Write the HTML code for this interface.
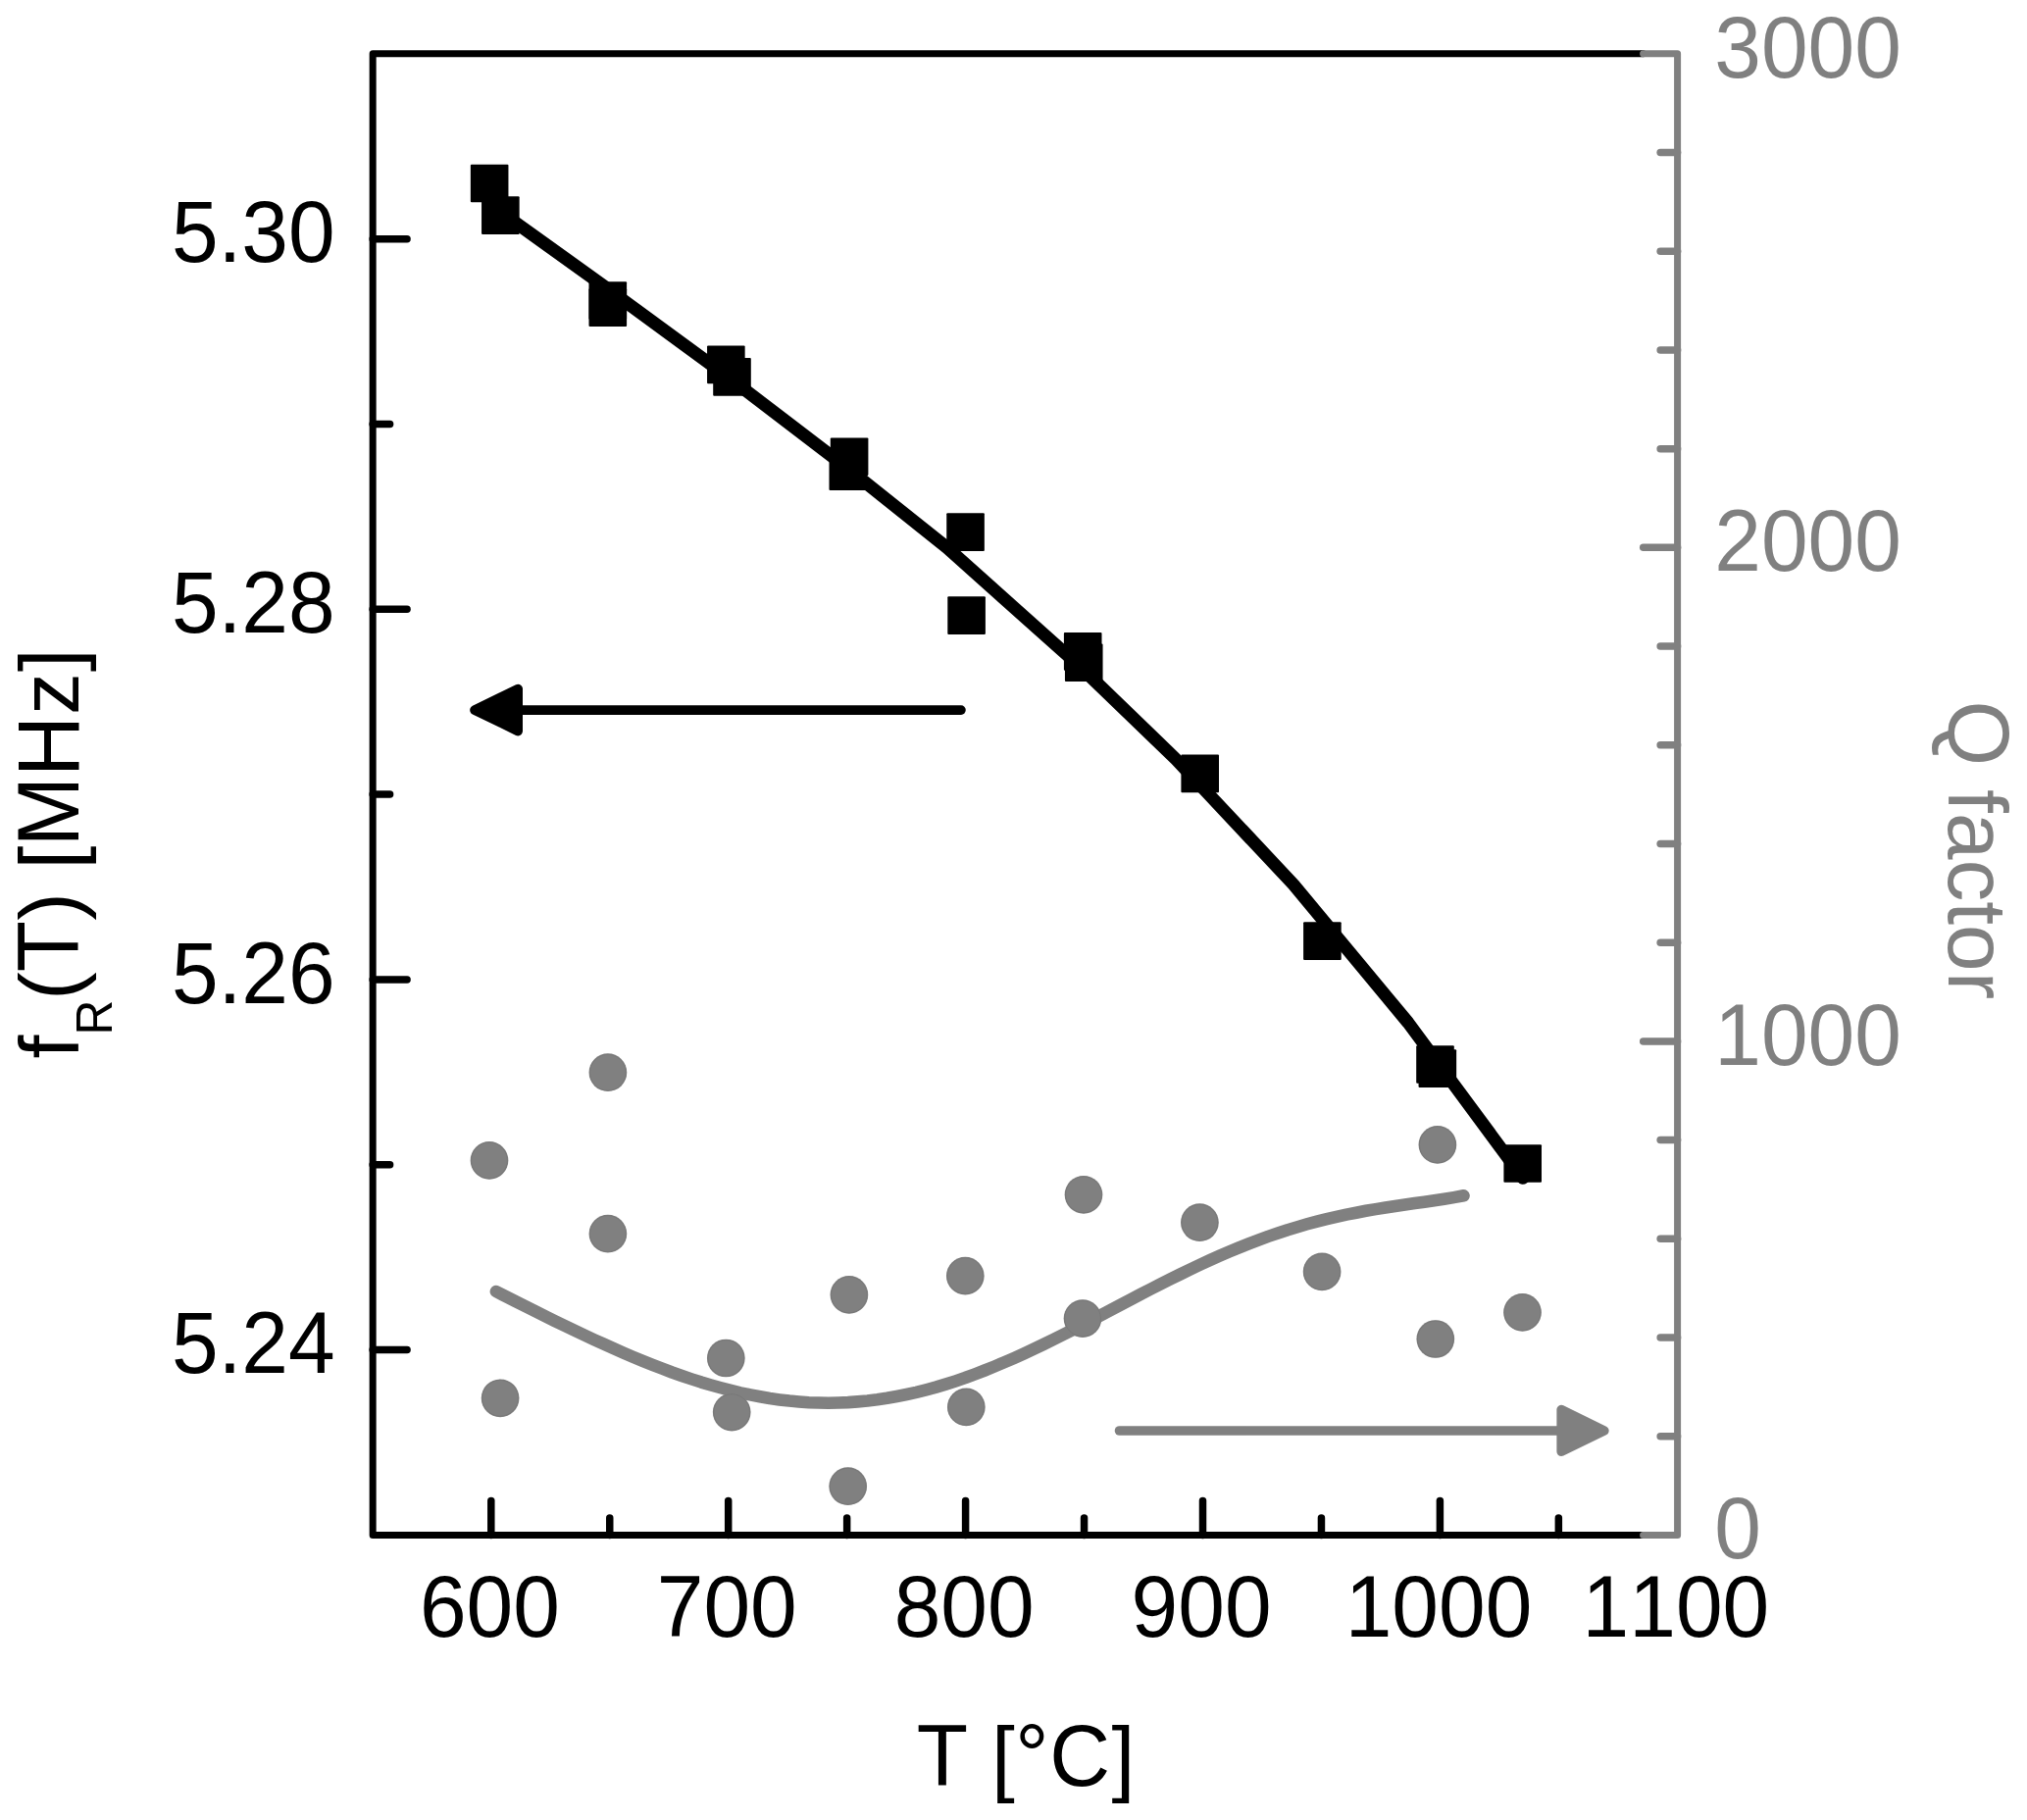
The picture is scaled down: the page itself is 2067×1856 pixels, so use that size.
<!DOCTYPE html>
<html><head><meta charset="utf-8"><title>Figure</title>
<style>html,body{margin:0;padding:0;background:#fff;overflow:hidden}svg{display:block}text{white-space:pre;font-kerning:none;font-variant-ligatures:none}</style></head>
<body>
<svg width="2067" height="1856" viewBox="0 0 2067 1856" font-family="'Liberation Sans', sans-serif">
<rect width="2067" height="1856" fill="#fff"/>
<path d="M505.9,1317.0 L515.9,1322.1 L525.8,1327.2 L535.8,1332.2 L545.8,1337.2 L555.7,1342.1 L565.7,1347.1 L575.7,1351.9 L585.6,1356.7 L595.6,1361.4 L605.6,1366.1 L615.5,1370.6 L625.5,1375.1 L635.5,1379.5 L645.4,1383.8 L655.4,1387.9 L665.4,1391.9 L675.3,1395.7 L685.3,1399.5 L695.2,1403.0 L705.2,1406.4 L715.2,1409.6 L725.1,1412.5 L735.1,1415.3 L745.1,1417.9 L755.0,1420.3 L765.0,1422.4 L775.0,1424.3 L784.9,1426.0 L794.9,1427.4 L804.9,1428.6 L814.8,1429.5 L824.8,1430.2 L834.8,1430.5 L844.7,1430.7 L854.7,1430.5 L864.7,1430.1 L874.6,1429.4 L884.6,1428.5 L894.6,1427.3 L904.5,1425.8 L914.5,1424.0 L924.5,1422.0 L934.4,1419.8 L944.4,1417.3 L954.4,1414.6 L964.3,1411.6 L974.3,1408.4 L984.3,1405.0 L994.2,1401.3 L1004.2,1397.5 L1014.1,1393.5 L1024.1,1389.3 L1034.1,1384.9 L1044.0,1380.4 L1054.0,1375.8 L1064.0,1371.0 L1073.9,1366.1 L1083.9,1361.2 L1093.9,1356.1 L1103.8,1351.0 L1113.8,1345.8 L1123.8,1340.6 L1133.7,1335.4 L1143.7,1330.1 L1153.7,1324.9 L1163.6,1319.7 L1173.6,1314.5 L1183.6,1309.4 L1193.5,1304.4 L1203.5,1299.5 L1213.5,1294.6 L1223.4,1289.9 L1233.4,1285.3 L1243.4,1280.8 L1253.3,1276.5 L1263.3,1272.4 L1273.3,1268.4 L1283.2,1264.6 L1293.2,1260.9 L1303.2,1257.5 L1313.1,1254.2 L1323.1,1251.2 L1333.0,1248.3 L1343.0,1245.6 L1353.0,1243.1 L1362.9,1240.8 L1372.9,1238.6 L1382.9,1236.7 L1392.8,1234.8 L1402.8,1233.1 L1412.8,1231.5 L1422.7,1230.0 L1432.7,1228.5 L1442.7,1227.1 L1452.6,1225.7 L1462.6,1224.3 L1472.6,1222.8 L1482.5,1221.1 L1492.5,1219.3" fill="none" stroke="#808080" stroke-width="12.6" stroke-linecap="round" stroke-linejoin="round"/>
<circle cx="619.9" cy="1093.7" r="19.35" fill="#808080"/><circle cx="619.9" cy="1093.7" r="18.4" fill="none" stroke="#747474" stroke-width="0.7"/>
<circle cx="499.0" cy="1183.4" r="19.35" fill="#808080"/><circle cx="499.0" cy="1183.4" r="18.4" fill="none" stroke="#747474" stroke-width="0.7"/>
<circle cx="619.9" cy="1258.1" r="19.35" fill="#808080"/><circle cx="619.9" cy="1258.1" r="18.4" fill="none" stroke="#747474" stroke-width="0.7"/>
<circle cx="865.9" cy="1320.4" r="19.35" fill="#808080"/><circle cx="865.9" cy="1320.4" r="18.4" fill="none" stroke="#747474" stroke-width="0.7"/>
<circle cx="740.3" cy="1385.0" r="19.35" fill="#808080"/><circle cx="740.3" cy="1385.0" r="18.4" fill="none" stroke="#747474" stroke-width="0.7"/>
<circle cx="510.1" cy="1425.8" r="19.35" fill="#808080"/><circle cx="510.1" cy="1425.8" r="18.4" fill="none" stroke="#747474" stroke-width="0.7"/>
<circle cx="746.2" cy="1440.1" r="19.35" fill="#808080"/><circle cx="746.2" cy="1440.1" r="18.4" fill="none" stroke="#747474" stroke-width="0.7"/>
<circle cx="984.3" cy="1301.1" r="19.35" fill="#808080"/><circle cx="984.3" cy="1301.1" r="18.4" fill="none" stroke="#747474" stroke-width="0.7"/>
<circle cx="985.3" cy="1434.9" r="19.35" fill="#808080"/><circle cx="985.3" cy="1434.9" r="18.4" fill="none" stroke="#747474" stroke-width="0.7"/>
<circle cx="1105" cy="1218.3" r="19.35" fill="#808080"/><circle cx="1105" cy="1218.3" r="18.4" fill="none" stroke="#747474" stroke-width="0.7"/>
<circle cx="1104" cy="1344.6" r="19.35" fill="#808080"/><circle cx="1104" cy="1344.6" r="18.4" fill="none" stroke="#747474" stroke-width="0.7"/>
<circle cx="1223.4" cy="1246.7" r="19.35" fill="#808080"/><circle cx="1223.4" cy="1246.7" r="18.4" fill="none" stroke="#747474" stroke-width="0.7"/>
<circle cx="1348.1" cy="1296.9" r="19.35" fill="#808080"/><circle cx="1348.1" cy="1296.9" r="18.4" fill="none" stroke="#747474" stroke-width="0.7"/>
<circle cx="1465.9" cy="1167.4" r="19.35" fill="#808080"/><circle cx="1465.9" cy="1167.4" r="18.4" fill="none" stroke="#747474" stroke-width="0.7"/>
<circle cx="1463.8" cy="1365.5" r="19.35" fill="#808080"/><circle cx="1463.8" cy="1365.5" r="18.4" fill="none" stroke="#747474" stroke-width="0.7"/>
<circle cx="1552.5" cy="1338.4" r="19.35" fill="#808080"/><circle cx="1552.5" cy="1338.4" r="18.4" fill="none" stroke="#747474" stroke-width="0.7"/>
<circle cx="864.7" cy="1515.7" r="19.35" fill="#808080"/><circle cx="864.7" cy="1515.7" r="18.4" fill="none" stroke="#747474" stroke-width="0.7"/>
<line x1="1141.5" y1="1459" x2="1595" y2="1459" stroke="#808080" stroke-width="9.6" stroke-linecap="round"/>
<polygon points="1635.9,1459 1592.2,1437.6 1592.2,1480.3" fill="#808080" stroke="#808080" stroke-width="9.6" stroke-linejoin="round"/>
<path d="M1675.6,54.85 H380.15 V1565.4 H1675.6" fill="none" stroke="#000" stroke-width="7.0" stroke-linejoin="round" stroke-linecap="round"/>
<line x1="380.15" y1="1376.58" x2="415.04999999999995" y2="1376.58" stroke="#000" stroke-width="7.5" stroke-linecap="round"/>
<line x1="380.15" y1="1187.76" x2="397.59999999999997" y2="1187.76" stroke="#000" stroke-width="7.5" stroke-linecap="round"/>
<line x1="380.15" y1="998.94" x2="415.04999999999995" y2="998.94" stroke="#000" stroke-width="7.5" stroke-linecap="round"/>
<line x1="380.15" y1="810.12" x2="397.59999999999997" y2="810.12" stroke="#000" stroke-width="7.5" stroke-linecap="round"/>
<line x1="380.15" y1="621.31" x2="415.04999999999995" y2="621.31" stroke="#000" stroke-width="7.5" stroke-linecap="round"/>
<line x1="380.15" y1="432.49" x2="397.59999999999997" y2="432.49" stroke="#000" stroke-width="7.5" stroke-linecap="round"/>
<line x1="380.15" y1="243.67" x2="415.04999999999995" y2="243.67" stroke="#000" stroke-width="7.5" stroke-linecap="round"/>
<line x1="500.80" y1="1565.4" x2="500.80" y2="1530.5" stroke="#000" stroke-width="7.5" stroke-linecap="round"/>
<line x1="621.75" y1="1565.4" x2="621.75" y2="1547.95" stroke="#000" stroke-width="7.5" stroke-linecap="round"/>
<line x1="742.70" y1="1565.4" x2="742.70" y2="1530.5" stroke="#000" stroke-width="7.5" stroke-linecap="round"/>
<line x1="863.65" y1="1565.4" x2="863.65" y2="1547.95" stroke="#000" stroke-width="7.5" stroke-linecap="round"/>
<line x1="984.60" y1="1565.4" x2="984.60" y2="1530.5" stroke="#000" stroke-width="7.5" stroke-linecap="round"/>
<line x1="1105.55" y1="1565.4" x2="1105.55" y2="1547.95" stroke="#000" stroke-width="7.5" stroke-linecap="round"/>
<line x1="1226.50" y1="1565.4" x2="1226.50" y2="1530.5" stroke="#000" stroke-width="7.5" stroke-linecap="round"/>
<line x1="1347.45" y1="1565.4" x2="1347.45" y2="1547.95" stroke="#000" stroke-width="7.5" stroke-linecap="round"/>
<line x1="1468.40" y1="1565.4" x2="1468.40" y2="1530.5" stroke="#000" stroke-width="7.5" stroke-linecap="round"/>
<line x1="1589.35" y1="1565.4" x2="1589.35" y2="1547.95" stroke="#000" stroke-width="7.5" stroke-linecap="round"/>
<path d="M1675.6,54.85 H1710.6 V1565.4 H1675.6" fill="none" stroke="#808080" stroke-width="7.0" stroke-linejoin="round" stroke-linecap="round"/>
<line x1="1710.6" y1="1464.70" x2="1693.1499999999999" y2="1464.70" stroke="#808080" stroke-width="7.5" stroke-linecap="round"/>
<line x1="1710.6" y1="1363.99" x2="1693.1499999999999" y2="1363.99" stroke="#808080" stroke-width="7.5" stroke-linecap="round"/>
<line x1="1710.6" y1="1263.29" x2="1693.1499999999999" y2="1263.29" stroke="#808080" stroke-width="7.5" stroke-linecap="round"/>
<line x1="1710.6" y1="1162.59" x2="1693.1499999999999" y2="1162.59" stroke="#808080" stroke-width="7.5" stroke-linecap="round"/>
<line x1="1710.6" y1="1061.88" x2="1675.6999999999998" y2="1061.88" stroke="#808080" stroke-width="7.5" stroke-linecap="round"/>
<line x1="1710.6" y1="961.18" x2="1693.1499999999999" y2="961.18" stroke="#808080" stroke-width="7.5" stroke-linecap="round"/>
<line x1="1710.6" y1="860.48" x2="1693.1499999999999" y2="860.48" stroke="#808080" stroke-width="7.5" stroke-linecap="round"/>
<line x1="1710.6" y1="759.77" x2="1693.1499999999999" y2="759.77" stroke="#808080" stroke-width="7.5" stroke-linecap="round"/>
<line x1="1710.6" y1="659.07" x2="1693.1499999999999" y2="659.07" stroke="#808080" stroke-width="7.5" stroke-linecap="round"/>
<line x1="1710.6" y1="558.37" x2="1675.6999999999998" y2="558.37" stroke="#808080" stroke-width="7.5" stroke-linecap="round"/>
<line x1="1710.6" y1="457.66" x2="1693.1499999999999" y2="457.66" stroke="#808080" stroke-width="7.5" stroke-linecap="round"/>
<line x1="1710.6" y1="356.96" x2="1693.1499999999999" y2="356.96" stroke="#808080" stroke-width="7.5" stroke-linecap="round"/>
<line x1="1710.6" y1="256.26" x2="1693.1499999999999" y2="256.26" stroke="#808080" stroke-width="7.5" stroke-linecap="round"/>
<line x1="1710.6" y1="155.55" x2="1693.1499999999999" y2="155.55" stroke="#808080" stroke-width="7.5" stroke-linecap="round"/>
<path d="M510.3,216.0 L620,294.7 L743.5,385.25 L865.4,478.4 L965.6,558.4 L1100,678.5 L1199,774.1 L1319.1,902.1 L1436,1043 L1553,1201.3" fill="none" stroke="#000" stroke-width="13" stroke-linecap="round" stroke-linejoin="round"/>
<rect x="479.85" y="167.65" width="38.6" height="38.6" rx="1" fill="#000"/>
<rect x="491.05" y="200.35" width="38.6" height="38.6" rx="1" fill="#000"/>
<rect x="600.50" y="287.20" width="38.6" height="38.6" rx="1" fill="#000"/>
<rect x="600.50" y="294.30" width="38.6" height="38.6" rx="1" fill="#000"/>
<rect x="721.05" y="352.60" width="38.6" height="38.6" rx="1" fill="#000"/>
<rect x="727.20" y="365.05" width="38.6" height="38.6" rx="1" fill="#000"/>
<rect x="846.80" y="446.50" width="38.6" height="38.6" rx="1" fill="#000"/>
<rect x="845.50" y="461.30" width="38.6" height="38.6" rx="1" fill="#000"/>
<rect x="965.25" y="523.30" width="38.6" height="38.6" rx="1" fill="#000"/>
<rect x="966.30" y="608.35" width="38.6" height="38.6" rx="1" fill="#000"/>
<rect x="1084.90" y="645.10" width="38.6" height="38.6" rx="1" fill="#000"/>
<rect x="1085.95" y="656.50" width="38.6" height="38.6" rx="1" fill="#000"/>
<rect x="1204.40" y="769.55" width="38.6" height="38.6" rx="1" fill="#000"/>
<rect x="1329.10" y="940.30" width="38.6" height="38.6" rx="1" fill="#000"/>
<rect x="1444.20" y="1066.20" width="38.6" height="38.6" rx="1" fill="#000"/>
<rect x="1446.55" y="1070.35" width="38.6" height="38.6" rx="1" fill="#000"/>
<rect x="1533.40" y="1167.20" width="38.6" height="38.6" rx="1" fill="#000"/>
<line x1="980" y1="724.1" x2="525" y2="724.1" stroke="#000" stroke-width="9.6" stroke-linecap="round"/>
<polygon points="484,724.1 528.2,702.6 528.2,745.6" fill="#000" stroke="#000" stroke-width="9.6" stroke-linejoin="round"/>
<g transform="translate(341.70,267.37)"><g transform="translate(-166.80,0)"><text transform="translate(0.00,0.00) scale(1,1.043)" font-size="85.7" fill="#000">5.30</text></g></g>
<g transform="translate(341.70,645.01)"><g transform="translate(-166.80,0)"><text transform="translate(0.00,0.00) scale(1,1.043)" font-size="85.7" fill="#000">5.28</text></g></g>
<g transform="translate(341.70,1022.64)"><g transform="translate(-166.80,0)"><text transform="translate(0.00,0.00) scale(1,1.043)" font-size="85.7" fill="#000">5.26</text></g></g>
<g transform="translate(341.70,1400.28)"><g transform="translate(-166.80,0)"><text transform="translate(0.00,0.00) scale(1,1.043)" font-size="85.7" fill="#000">5.24</text></g></g>
<g transform="translate(499.40,1669.30)"><g transform="translate(-71.49,0)"><text transform="translate(0.00,0.00) scale(1,1.043)" font-size="85.7" fill="#000">600</text></g></g>
<g transform="translate(741.30,1669.30)"><g transform="translate(-71.49,0)"><text transform="translate(0.00,0.00) scale(1,1.043)" font-size="85.7" fill="#000">700</text></g></g>
<g transform="translate(983.20,1669.30)"><g transform="translate(-71.49,0)"><text transform="translate(0.00,0.00) scale(1,1.043)" font-size="85.7" fill="#000">800</text></g></g>
<g transform="translate(1225.10,1669.30)"><g transform="translate(-71.49,0)"><text transform="translate(0.00,0.00) scale(1,1.043)" font-size="85.7" fill="#000">900</text></g></g>
<g transform="translate(1467.00,1669.30)"><g transform="translate(-95.32,0)"><text transform="translate(0.00,0.00) scale(1,1.043)" font-size="85.7" fill="#000">1000</text></g></g>
<g transform="translate(1708.90,1669.30)"><g transform="translate(-95.32,0)"><text transform="translate(0.00,0.00) scale(1,1.043)" font-size="85.7" fill="#000">1100</text></g></g>
<g transform="translate(1748.30,1589.10)"><g transform="translate(0.00,0)"><text transform="translate(0.00,0.00) scale(1,1.043)" font-size="85.7" fill="#808080">0</text></g></g>
<g transform="translate(1748.30,1085.58)"><g transform="translate(0.00,0)"><text transform="translate(0.00,0.00) scale(1,1.043)" font-size="85.7" fill="#808080">1000</text></g></g>
<g transform="translate(1748.30,582.07)"><g transform="translate(0.00,0)"><text transform="translate(0.00,0.00) scale(1,1.043)" font-size="85.7" fill="#808080">2000</text></g></g>
<g transform="translate(1748.30,78.55)"><g transform="translate(0.00,0)"><text transform="translate(0.00,0.00) scale(1,1.043)" font-size="85.7" fill="#808080">3000</text></g></g>
<g transform="translate(1044.70,1821.10)"><g transform="translate(-109.97,0)"><text transform="translate(0.00,0.00) scale(1,1.043)" font-size="85.7" fill="#000">T</text><text transform="translate(52.35,0.00) scale(1,1)" font-size="85.7" fill="#000"> [</text><text transform="translate(100.47,-1.60) scale(1,1.043)" font-size="85.7" fill="#000">°</text><text transform="translate(135.44,0.00) scale(1,1.043)" font-size="85.7" fill="#000">C</text><text transform="translate(198.73,0.00) scale(1,1)" font-size="85.7" fill="#000">]</text></g></g>
<g transform="translate(79.60,1079.40) rotate(-90)"><g transform="translate(0.00,0)"><text transform="translate(0.00,0.00) scale(1,1)" font-size="85.7" fill="#000">f</text><text transform="translate(23.81,34.00) scale(1,1.043)" font-size="49.7" fill="#000">R</text><text transform="translate(59.70,0.00) scale(1,1)" font-size="85.7" fill="#000">(</text><text transform="translate(88.24,0.00) scale(1,1.043)" font-size="85.7" fill="#000">T</text><text transform="translate(140.59,0.00) scale(1,1)" font-size="85.7" fill="#000">) [</text><text transform="translate(216.05,0.00) scale(1,1.043)" font-size="85.7" fill="#000">MH</text><text transform="translate(350.33,0.00) scale(1,1)" font-size="85.7" fill="#000">z</text><text transform="translate(394.18,0.00) scale(1,1)" font-size="85.7" fill="#000">]</text></g></g>
<g transform="translate(1986.50,714.50) rotate(90)"><g transform="translate(0.00,0)"><text transform="translate(0.00,0.00) scale(1,1.043)" font-size="85.7" fill="#808080">Q</text><text transform="translate(66.66,0.00) scale(1,1)" font-size="85.7" fill="#808080"> factor</text></g></g>
</svg>
</body></html>
